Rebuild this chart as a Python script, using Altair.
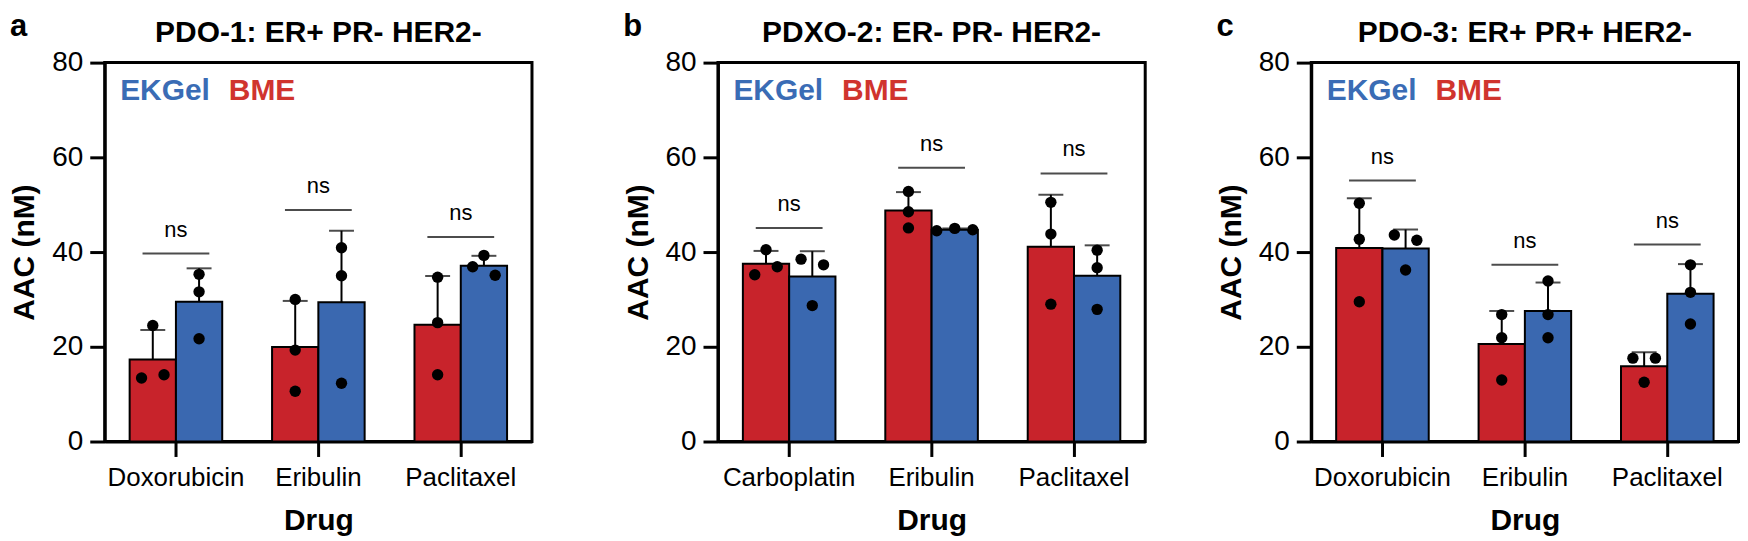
import altair as alt
import pandas as pd

# ---------------- data ----------------
letters = ["a", "b", "c"]
titles = ["PDO-1: ER+ PR- HER2-", "PDXO-2: ER- PR- HER2-", "PDO-3: ER+ PR+ HER2-"]
drugs = [
    ["Doxorubicin", "Eribulin", "Paclitaxel"],
    ["Carboplatin", "Eribulin", "Paclitaxel"],
    ["Doxorubicin", "Eribulin", "Paclitaxel"],
]
matrices = ["BME", "EKGel"]

# replicate AAC values, one inner list per drug
bme_values = [
    [[13.4, 14.1, 24.5], [30.0, 19.3, 10.6], [34.7, 25.1, 14.1]],
    [[40.5, 36.9, 35.2], [52.8, 48.5, 45.1], [50.5, 43.8, 29.0]],
    [[50.3, 42.7, 29.5], [26.8, 21.9, 13.0], [17.6, 17.6, 12.5]],
]
ekgel_values = [
    [[35.3, 31.6, 21.7], [40.9, 35.0, 12.3], [39.3, 35.1, 36.9]],
    [[38.5, 37.3, 28.7], [44.5, 45.0, 44.7], [40.4, 36.7, 27.9]],
    [[43.6, 42.5, 36.2], [33.9, 26.8, 21.9], [37.3, 31.5, 24.8]],
]
# side-by-side spreading of overlapping replicate dots (-1 left, 0 centre, 1 right)
bme_spread = [
    [[-1, 1, 0], [0, 0, 0], [0, 0, 0]],
    [[0, 1, -1], [0, 0, 0], [0, 0, 0]],
    [[0, 0, 0], [0, 0, 0], [-1, 1, 0]],
]
ekgel_spread = [
    [[0, 0, 0], [0, 0, 0], [0, 1, -1]],
    [[-1, 1, 0], [-1.6, 0, 1.6], [0, 0, 0]],
    [[-1, 1, 0], [0, 0, 0], [0, 0, 0]],
]
# height of the "ns" comparison bars
ns_levels = [
    [39.7, 48.9, 43.2],
    [45.1, 57.8, 56.6],
    [55.1, 37.3, 41.6],
]
ns_labels = ["ns", "ns", "ns"]

y_ticks = [0, 20, 40, 60, 80]

RED = "#c8232b"
BLUE = "#3a68b0"
RED_TXT = "#d0342e"
BLUE_TXT = "#3a6cb5"
FONT = "Liberation Sans"

W = 428.5
H = 380


def panel(i):
    rows = []
    for d, drug in enumerate(drugs[i]):
        for m, (vals, spr) in enumerate([(bme_values[i][d], bme_spread[i][d]),
                                         (ekgel_values[i][d], ekgel_spread[i][d])]):
            for r, (v, s) in enumerate(zip(vals, spr)):
                rows.append({"drug": drug, "matrix": matrices[m], "rep": r + 1,
                             "value": v, "spread": s})
    df = pd.DataFrame(rows)
    ns_df = pd.DataFrame({"drug": drugs[i], "level": ns_levels[i], "label": ns_labels})

    x = alt.X("drug:N", sort=drugs[i], title="Drug",
              scale=alt.Scale(paddingInner=0.35, paddingOuter=0.175),
              axis=alt.Axis(labelAngle=0))
    xo = alt.XOffset("matrix:N", sort=matrices,
                     scale=alt.Scale(domain=matrices, paddingInner=0, paddingOuter=0))

    def Y(field):
        return alt.Y(field, scale=alt.Scale(domain=[0, 80]),
                     axis=alt.Axis(values=y_ticks), title="AAC (nM)")

    base = alt.Chart(df)
    stats = base.transform_aggregate(
        mean="mean(value)", sd="stdev(value)", groupby=["drug", "matrix"]
    ).transform_calculate(hi="datum.mean + datum.sd")

    bars = stats.mark_bar(stroke="black", strokeWidth=2).encode(
        x=x, xOffset=xo, y=Y("mean:Q"),
        color=alt.Color("matrix:N", scale=alt.Scale(domain=matrices, range=[RED, BLUE]),
                        legend=None),
    )
    err = stats.mark_rule(color="black", strokeWidth=2).encode(
        x=x, xOffset=xo, y=Y("mean:Q"), y2="hi:Q",
    )
    caps = stats.mark_tick(color="black", size=25, thickness=2).encode(
        x=x, xOffset=xo, y=Y("hi:Q"),
    )
    dots = base.transform_calculate(
        u="(datum.matrix == 'BME' ? -0.5 : 0.5) + datum.spread * 0.243"
    ).mark_circle(color="black", opacity=1, size=130).encode(
        x=x,
        xOffset=alt.XOffset("u:Q", scale=alt.Scale(domain=[-1, 1])),
        y=Y("value:Q"),
    )
    ns_bar = alt.Chart(ns_df).mark_tick(color="black", size=67, thickness=2).encode(
        x=x, y=Y("level:Q"),
    )
    ns_txt = alt.Chart(ns_df).mark_text(fontSize=22, font=FONT, dy=-17,
                                        baseline="alphabetic", color="black").encode(
        x=x, y=Y("level:Q"), text="label:N",
    )

    one = pd.DataFrame({"t": [0]})
    letter = alt.Chart(one).mark_text(text=letters[i], fontSize=31, fontWeight="bold",
                                      font=FONT, align="left", baseline="top",
                                      color="black").encode(
        x=alt.value(-95), y=alt.value(-51))
    title = alt.Chart(one).mark_text(text=titles[i], fontSize=30, fontWeight="bold",
                                     font=FONT, align="center", baseline="top",
                                     color="black").encode(
        x=alt.value(W / 2), y=alt.value(-45))
    leg1 = alt.Chart(one).mark_text(text=matrices[1], fontSize=30, fontWeight="bold",
                                    font=FONT, align="left", baseline="alphabetic",
                                    color=BLUE_TXT).encode(
        x=alt.value(15.5), y=alt.value(38))
    leg2 = alt.Chart(one).mark_text(text=matrices[0], fontSize=30, fontWeight="bold",
                                    font=FONT, align="left", baseline="alphabetic",
                                    color=RED_TXT).encode(
        x=alt.value(124.5), y=alt.value(38))

    return alt.layer(bars, err, caps, dots, ns_bar, ns_txt, letter, title, leg1, leg2
                     ).resolve_scale(xOffset="independent").properties(width=W, height=H)


pa, pb, pc = panel(0), panel(1), panel(2)

chart = alt.hconcat(pa, alt.hconcat(pb, pc, spacing=68), spacing=88).properties(
    padding=0
).configure(font=FONT).configure_view(
    stroke="black", strokeWidth=3
).configure_axis(
    grid=False, domainColor="black", domainWidth=3, tickColor="black", tickWidth=3,
    tickSize=15, labelColor="black", titleColor="black", labelFont=FONT, titleFont=FONT,
).configure_axisY(
    labelFontSize=28, labelPadding=7, titleFontSize=30, titleFontWeight="bold",
    titlePadding=12,
).configure_axisX(
    labelFontSize=26, labelPadding=8, titleFontSize=30, titleFontWeight="bold",
    titlePadding=15,
)

chart.save("out.html", embed_options={"renderer": "svg", "actions": False})
